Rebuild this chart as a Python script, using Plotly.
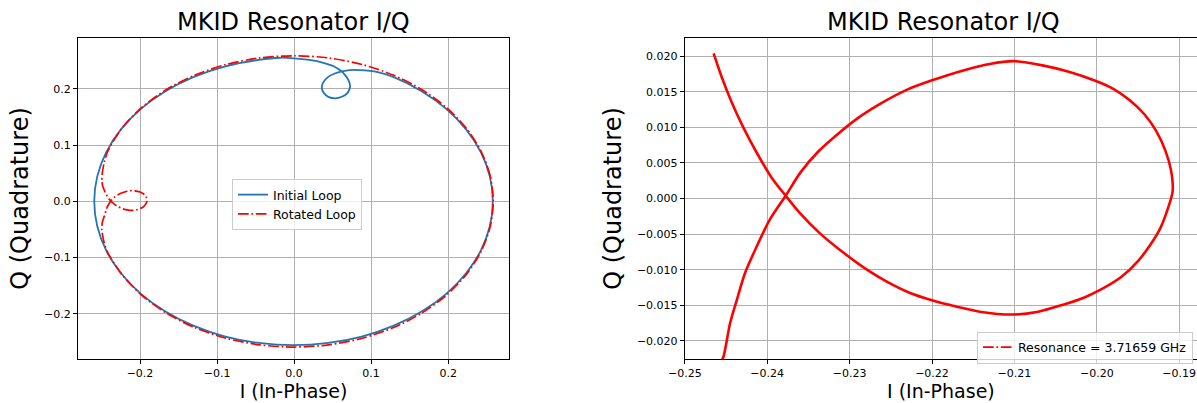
import plotly.graph_objects as go

# ---------------- data ----------------
# Initial loop (blue), points in sweep order
init_I = [0.2580, 0.2541, 0.2424, 0.2233, 0.1975, 0.1656, 0.1287, 0.1086, 0.0850, 0.0720,
          0.0620, 0.0520, 0.0440, 0.0380, 0.0360, 0.0390, 0.0450, 0.0532, 0.0620, 0.0695,
          0.0727, 0.0705, 0.0660, 0.0620, 0.0520, 0.0380, 0.0200, 0.0000, -0.0180, -0.0456,
          -0.0892, -0.1301, -0.1670, -0.1989, -0.2247, -0.2438, -0.2555, -0.2594, -0.2555, -0.2438,
          -0.2247, -0.1989, -0.1670, -0.1301, -0.0892, -0.0456, -0.0007, 0.0442, 0.0878, 0.1287,
          0.1656, 0.1975, 0.2233, 0.2424, 0.2541, 0.2580]
init_Q = [0.0000, 0.0444, 0.0875, 0.1279, 0.1644, 0.1959, 0.2214, 0.2300, 0.2335, 0.2335,
          0.2310, 0.2270, 0.2210, 0.2120, 0.2010, 0.1920, 0.1855, 0.1833, 0.1860, 0.1930,
          0.2040, 0.2160, 0.2250, 0.2310, 0.2400, 0.2465, 0.2515, 0.2545, 0.2555, 0.2518,
          0.2403, 0.2214, 0.1959, 0.1644, 0.1279, 0.0875, 0.0444, 0.0000, -0.0444, -0.0876,
          -0.1280, -0.1646, -0.1961, -0.2217, -0.2406, -0.2521, -0.2560, -0.2521, -0.2406, -0.2217,
          -0.1961, -0.1646, -0.1280, -0.0876, -0.0444, 0.0000]

# Rotated loop (red), full sweep, points in sweep order
rot_I = [0.2585, 0.2546, 0.2429, 0.2239, 0.1980, 0.1662, 0.1293, 0.0884, 0.0449, 0.0000,
         -0.0449, -0.0884, -0.1293, -0.1662, -0.1980, -0.2239, -0.2415, -0.2465, -0.2490, -0.2495,
         -0.2483, -0.2465, -0.2455, -0.2443, -0.2429, -0.2413, -0.2395, -0.2377, -0.2360, -0.2336,
         -0.2312, -0.2279, -0.2256, -0.2228, -0.2200, -0.2170, -0.2142, -0.2101, -0.2071, -0.2043,
         -0.2015, -0.1992, -0.1970, -0.1950, -0.1935, -0.1923, -0.1914, -0.1908, -0.1910, -0.1917,
         -0.1928, -0.1942, -0.1960, -0.1980, -0.2001, -0.2034, -0.2066, -0.2101, -0.2130, -0.2162,
         -0.2200, -0.2232, -0.2263, -0.2290, -0.2316, -0.2338, -0.2360, -0.2377, -0.2397, -0.2413,
         -0.2427, -0.2437, -0.2445, -0.2453, -0.2470, -0.2490, -0.2495, -0.2475, -0.2429, -0.2239,
         -0.1980, -0.1662, -0.1293, -0.0884, -0.0449, 0.0000, 0.0449, 0.0884, 0.1293, 0.1662,
         0.1980, 0.2239, 0.2429, 0.2546, 0.2585]
rot_Q = [0.0000, 0.0450, 0.0886, 0.1295, 0.1665, 0.1984, 0.2243, 0.2434, 0.2551, 0.2590,
         0.2551, 0.2434, 0.2243, 0.1984, 0.1665, 0.1295, 0.0900, 0.0690, 0.0500, 0.0360,
         0.0265, 0.0204, 0.0170, 0.0135, 0.0100, 0.0065, 0.0030, 0.0003, -0.0021, -0.0049,
         -0.0072, -0.0100, -0.0116, -0.0132, -0.0143, -0.0152, -0.0159, -0.0163, -0.0159, -0.0150,
         -0.0139, -0.0126, -0.0110, -0.0088, -0.0065, -0.0042, -0.0015, 0.0010, 0.0040, 0.0068,
         0.0095, 0.0118, 0.0138, 0.0154, 0.0165, 0.0178, 0.0187, 0.0193, 0.0189, 0.0180,
         0.0166, 0.0152, 0.0133, 0.0113, 0.0089, 0.0066, 0.0036, 0.0005, -0.0030, -0.0068,
         -0.0105, -0.0143, -0.0175, -0.0222, -0.0290, -0.0380, -0.0500, -0.0680, -0.0886, -0.1296,
         -0.1667, -0.1986, -0.2246, -0.2437, -0.2554, -0.2593, -0.2554, -0.2437, -0.2246, -0.1986,
         -0.1667, -0.1296, -0.0886, -0.0450, 0.0000]

# Rotated loop around the resonance only (right panel window)
res_I = [-0.2465, -0.2455, -0.2443, -0.2429, -0.2413, -0.2395, -0.2377, -0.2360, -0.2336, -0.2312,
         -0.2279, -0.2256, -0.2228, -0.2200, -0.2170, -0.2142, -0.2101, -0.2071, -0.2043, -0.2015,
         -0.1992, -0.1970, -0.1950, -0.1935, -0.1923, -0.1914, -0.1908, -0.1910, -0.1917, -0.1928,
         -0.1942, -0.1960, -0.1980, -0.2001, -0.2034, -0.2066, -0.2101, -0.2130, -0.2162, -0.2200,
         -0.2232, -0.2263, -0.2290, -0.2316, -0.2338, -0.2360, -0.2377, -0.2397, -0.2413, -0.2427,
         -0.2437, -0.2445, -0.2453, -0.2457]
res_Q = [0.0204, 0.0170, 0.0135, 0.0100, 0.0065, 0.0030, 0.0003, -0.0021, -0.0049, -0.0072,
         -0.0100, -0.0116, -0.0132, -0.0143, -0.0152, -0.0159, -0.0163, -0.0159, -0.0150, -0.0139,
         -0.0126, -0.0110, -0.0088, -0.0065, -0.0042, -0.0015, 0.0010, 0.0040, 0.0068, 0.0095,
         0.0118, 0.0138, 0.0154, 0.0165, 0.0178, 0.0187, 0.0193, 0.0189, 0.0180, 0.0166,
         0.0152, 0.0133, 0.0113, 0.0089, 0.0066, 0.0036, 0.0005, -0.0030, -0.0068, -0.0105,
         -0.0143, -0.0175, -0.0222, -0.0232]

resonance_ghz = 3.71659
title_text = "MKID Resonator I/Q"
x_label = "I (In-Phase)"
y_label = "Q (Quadrature)"

# ---------------- styling ----------------
W, H = 1197, 403
ML, MT, MB = 78, 38, 44
FONT = "DejaVu Sans"
BLUE = "#1f77b4"
RED = "#ff0000"
DASHDOT = "10.7px,2.7px,1.7px,2.7px"
GRID = "#b0b0b0"


def px_x(p):
    return (p - ML) / (W - ML)


def px_y(p):
    return (H - MB - p) / (H - MT - MB)


fig = go.Figure()

fig.add_trace(go.Scatter(x=init_I, y=init_Q, mode="lines", name="Initial Loop",
                         line=dict(color=BLUE, width=1.8, shape="spline", smoothing=0.8),
                         xaxis="x", yaxis="y", legend="legend"))
fig.add_trace(go.Scatter(x=rot_I, y=rot_Q, mode="lines", name="Rotated Loop",
                         line=dict(color=RED, width=1.7, dash=DASHDOT, shape="spline", smoothing=0.8),
                         xaxis="x", yaxis="y", legend="legend"))
fig.add_trace(go.Scatter(x=res_I, y=res_Q, mode="lines", showlegend=False,
                         name=f"Resonance = {resonance_ghz} GHz",
                         line=dict(color=RED, width=2.6, shape="spline", smoothing=0.8),
                         xaxis="x2", yaxis="y2"))
fig.add_trace(go.Scatter(x=[None], y=[None], mode="lines",
                         name=f"Resonance = {resonance_ghz} GHz",
                         line=dict(color=RED, width=1.7, dash=DASHDOT),
                         xaxis="x2", yaxis="y2", legend="legend2"))

axis_common = dict(showline=True, linecolor="black", linewidth=1, mirror=True,
                   ticks="outside", ticklen=4, tickcolor="black", tickwidth=1,
                   showgrid=True, gridcolor=GRID, gridwidth=1, zeroline=False,
                   automargin=False, tickfont=dict(family=FONT, size=11, color="black"))

fig.update_layout(
    width=W, height=H,
    margin=dict(l=ML, r=0, t=MT, b=MB),
    paper_bgcolor="white", plot_bgcolor="white",
    font=dict(family=FONT, color="black"),
    xaxis=dict(domain=[0, px_x(509)], range=[-0.2805, 0.279], dtick=0.1, tick0=0,
               tickformat=".1f", anchor="y",
               title=dict(text=x_label, font=dict(size=19), standoff=5), **axis_common),
    yaxis=dict(domain=[0, 1], range=[-0.2806, 0.2906], dtick=0.1, tick0=0,
               tickformat=".1f", anchor="x",
               title=dict(text=y_label, font=dict(size=24), standoff=8), **axis_common),
    xaxis2=dict(domain=[px_x(684.8), 1], range=[-0.25, -0.25 + (W - 684.8) / 8240],
                dtick=0.01, tick0=0, tickformat=".2f", anchor="y2",
                title=dict(text=x_label, font=dict(size=19), standoff=5), **axis_common),
    yaxis2=dict(domain=[0, 1], range=[-0.02255, 0.02255], dtick=0.005, tick0=0,
                tickformat=".3f", anchor="x2",
                title=dict(text=y_label, font=dict(size=24), standoff=8), **axis_common),
    legend=dict(x=px_x(232), y=px_y(179), xanchor="left", yanchor="top", itemwidth=30,
                bgcolor="rgba(255,255,255,0.8)", bordercolor="#cccccc", borderwidth=1,
                font=dict(family=FONT, size=12.5)),
    legend2=dict(x=px_x(1193), y=px_y(331.5), xanchor="right", yanchor="top", itemwidth=30,
                 bgcolor="rgba(255,255,255,0.8)", bordercolor="#cccccc", borderwidth=1,
                 font=dict(family=FONT, size=12.5)),
    annotations=[
        dict(text=title_text, x=px_x(293.5), y=px_y(22), xref="paper", yref="paper",
             xanchor="center", yanchor="middle", showarrow=False,
             font=dict(family=FONT, size=24, color="black")),
        dict(text=title_text, x=px_x(943), y=px_y(22), xref="paper", yref="paper",
             xanchor="center", yanchor="middle", showarrow=False,
             font=dict(family=FONT, size=24, color="black")),
    ],
)

fig.write_html("out.html")
